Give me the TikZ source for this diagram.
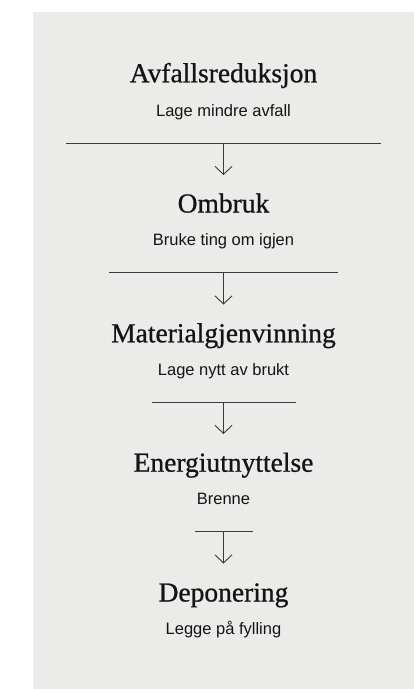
\documentclass[tikz,border=0pt]{standalone}
\usepackage{fontspec}
\setmainfont{Liberation Serif}
\setsansfont{Liberation Sans}
\newfontfamily\titlefont{Liberation Serif}[FakeBold=0.8]
\usetikzlibrary{arrows.meta, positioning}

\definecolor{panelgray}{HTML}{EBECE9}
\definecolor{inkgray}{HTML}{141414}
\definecolor{rulegray}{HTML}{3A3A3A}

\begin{document}
\begin{tikzpicture}[x=1pt, y=-1pt, >={Straight Barb[length=8pt, width=17pt]},
    title/.style={anchor=base, inner sep=0pt, text=inkgray, font=\titlefont\fontsize{27.5}{30}\selectfont},
    sub/.style={anchor=base, inner sep=0pt, text=inkgray, font=\sffamily\fontsize{16.5}{20}\selectfont},
    rule/.style={draw=rulegray, line width=0.9pt}]

        \useasboundingbox (0,0) rectangle (414,689);
        \fill[panelgray] (33,12) rectangle (414,689);

        % Avfallsreduksjon
        \node[title] (reduksjon) at (223.5, 82.3) {Avfallsreduksjon};
        \node[sub] (reduksjonsub) at (223.5, 116.3) {Lage mindre avfall};
        \coordinate (rule1l) at (66, 143.3);
        \coordinate (rule1r) at (381, 143.3);
        \coordinate (arrow1) at (223.5, 143.3);
        \coordinate (tip1) at (223.5, 175);
        \draw[rule] (rule1l) -- (rule1r);
        \draw[rule, ->] (arrow1) -- (tip1);

        % Ombruk
        \node[title] (ombruk) at (223.5, 212.5) {Ombruk};
        \node[sub] (ombruksub) at (223.5, 245.7) {Bruke ting om igjen};
        \coordinate (rule2l) at (109, 272.7);
        \coordinate (rule2r) at (338, 272.7);
        \coordinate (arrow2) at (223.5, 272.7);
        \coordinate (tip2) at (223.5, 304.5);
        \draw[rule] (rule2l) -- (rule2r);
        \draw[rule, ->] (arrow2) -- (tip2);

        % Materialgjenvinning
        \node[title] (material) at (223.5, 342.3) {Materialgjenvinning};
        \node[sub] (materialsub) at (223.5, 375.3) {Lage nytt av brukt};
        \coordinate (rule3l) at (152, 402.3);
        \coordinate (rule3r) at (296, 402.3);
        \coordinate (arrow3) at (223.5, 402.3);
        \coordinate (tip3) at (223.5, 434);
        \draw[rule] (rule3l) -- (rule3r);
        \draw[rule, ->] (arrow3) -- (tip3);

        % Energiutnyttelse
        \node[title] (energi) at (223.5, 471.7) {Energiutnyttelse};
        \node[sub] (energisub) at (223.5, 504.7) {Brenne};
        \coordinate (rule4l) at (195, 531.7);
        \coordinate (rule4r) at (253, 531.7);
        \coordinate (arrow4) at (223.5, 531.7);
        \coordinate (tip4) at (223.5, 563.5);
        \draw[rule] (rule4l) -- (rule4r);
        \draw[rule, ->] (arrow4) -- (tip4);

        % Deponering
        \node[title] (deponering) at (223.5, 601.5) {Deponering};
        \node[sub] (deponeringsub) at (223.5, 634.5) {Legge på fylling};

    \end{tikzpicture}
\end{document}
